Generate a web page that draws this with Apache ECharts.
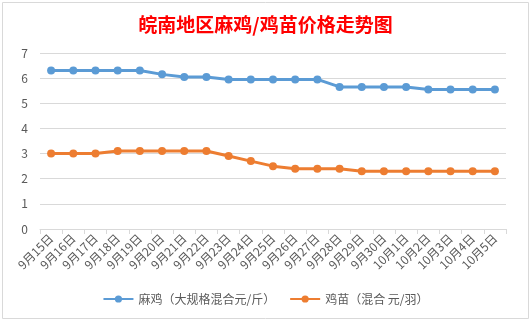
<!DOCTYPE html>
<html><head><meta charset="utf-8">
<script src="https://cdn.jsdelivr.net/npm/echarts@6/dist/echarts.min.js"></script>
<style>html,body{margin:0;padding:0;background:#fff}#c{width:531px;height:322px}</style>
</head><body><div id="c"></div>
<script>
const categories = ['9月15日','9月16日','9月17日','9月18日','9月19日','9月20日','9月21日','9月22日','9月23日','9月24日','9月25日','9月26日','9月27日','9月28日','9月29日','9月30日','10月1日','10月2日','10月3日','10月4日','10月5日'];
const maji = [6.3,6.3,6.3,6.3,6.3,6.15,6.05,6.05,5.95,5.95,5.95,5.95,5.95,5.65,5.65,5.65,5.65,5.55,5.55,5.55,5.55];
const jimiao = [3.0,3.0,3.0,3.1,3.1,3.1,3.1,3.1,2.9,2.7,2.5,2.4,2.4,2.4,2.3,2.3,2.3,2.3,2.3,2.3,2.3];
const seriesNames = ['麻鸡（大规格混合元/斤）','鸡苗（混合 元/羽）'];
const titleText = '皖南地区麻鸡/鸡苗价格走势图';
const font = '"Noto Sans CJK SC", "Microsoft YaHei", sans-serif';
const chart = echarts.init(document.getElementById('c'), null, {renderer:'canvas'});
chart.setOption({
  animation:false,
  textStyle:{fontFamily:font},
  graphic:[{type:'rect',shape:{x:2.5,y:2.5,width:526,height:316},style:{fill:null,stroke:'#d9d9d9',lineWidth:1},z:-1}],
  title:{text:titleText,left:'center',top:10,textStyle:{color:'#ff0000',fontSize:19,fontWeight:'bold',fontFamily:font}},
  legend:{bottom:12,left:'center',itemWidth:30,itemHeight:9,itemGap:14,
    textStyle:{color:'#595959',fontSize:12,fontFamily:font},data:seriesNames},
  grid:{left:40,right:25,top:53,bottom:93},
  xAxis:{type:'category',data:categories,boundaryGap:true,
    axisLine:{lineStyle:{color:'#d9d9d9'}},
    axisTick:{show:true,length:5,lineStyle:{color:'#d9d9d9'}},
    axisLabel:{rotate:45,color:'#595959',fontSize:12,interval:0,margin:7,fontFamily:font}},
  yAxis:{type:'value',min:0,max:7,interval:1,
    axisLine:{show:false},axisTick:{show:false},
    splitLine:{lineStyle:{color:'#d9d9d9'}},
    axisLabel:{color:'#595959',fontSize:12,margin:12,fontFamily:font}},
  series:[
    {name:seriesNames[0],type:'line',data:maji,symbol:'circle',symbolSize:8,
     itemStyle:{color:'#5b9bd5'},lineStyle:{width:3,color:'#5b9bd5'}},
    {name:seriesNames[1],type:'line',data:jimiao,symbol:'circle',symbolSize:8,
     itemStyle:{color:'#ed7d31'},lineStyle:{width:3,color:'#ed7d31'}}
  ]
});
</script></body></html>
